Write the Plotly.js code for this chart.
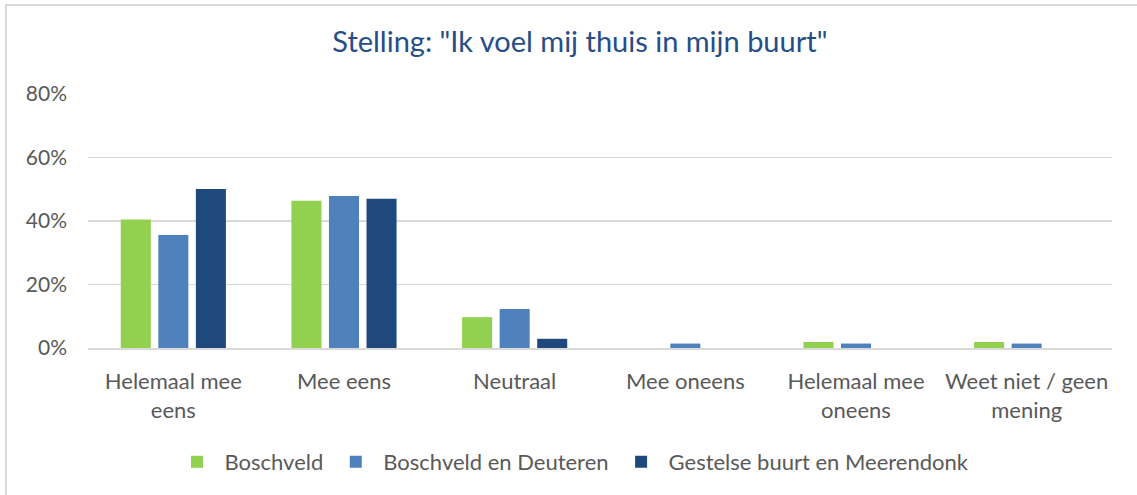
<!DOCTYPE html>
<html>
<head>
<meta charset="utf-8">
<script src="https://cdn.plot.ly/plotly-3.0.1.min.js"></script>
<style>
  html, body { margin: 0; padding: 0; background: #ffffff; overflow: hidden; }
  #frame { position: absolute; left: 5px; top: 4px; width: 1150px; height: 520px; border: 2px solid #d9d9d9; box-sizing: border-box; }
  #chart { position: absolute; left: 0; top: 0; width: 1137px; height: 495px; }
</style>
</head>
<body>
<div id="frame"></div>
<div id="chart"></div>
<script>
const categories = ["Helemaal mee<br>eens", "Mee eens", "Neutraal", "Mee oneens", "Helemaal mee<br>oneens", "Weet niet / geen<br>mening"];
const seriesNames = ["Boschveld", "Boschveld en Deuteren", "Gestelse buurt en Meerendonk"];
const boschveld = [0.405, 0.464, 0.097, 0.0, 0.019, 0.019];
const boschveldDeuteren = [0.356, 0.479, 0.123, 0.014, 0.014, 0.014];
const gestelse = [0.501, 0.470, 0.029, 0.0, 0.0, 0.0];
const colors = ["#92D050", "#4F81BD", "#1F497D"];
const yTicks = [0, 0.2, 0.4, 0.6, 0.8];
const titleText = 'Stelling: "Ik voel mij thuis in mijn buurt"';

const seriesValues = [boschveld, boschveldDeuteren, gestelse];
const traces = seriesValues.map((vals, i) => ({
  type: 'bar',
  name: seriesNames[i],
  x: categories,
  y: vals,
  marker: { color: colors[i] },
  hoverinfo: 'skip'
}));

const font = 'Lato, "Open Sans", sans-serif';
const layout = {
  width: 1137,
  height: 495,
  paper_bgcolor: 'rgba(0,0,0,0)',
  plot_bgcolor: 'rgba(0,0,0,0)',
  margin: { l: 88, r: 25, t: 94, b: 147 },
  barmode: 'group',
  bargap: 0.34,
  bargroupgap: 0.2,
  title: {
    text: titleText,
    font: { family: font, size: 29, color: '#264E86' },
    x: 0.51, xref: 'container', xanchor: 'center',
    y: 1 - 42 / 495, yref: 'container', yanchor: 'middle'
  },
  xaxis: {
    type: 'category',
    tickfont: { family: font, size: 22, color: '#595959' },
    showgrid: false,
    showline: true,
    linecolor: '#d9d9d9',
    linewidth: 2,
    ticks: '',
    ticklabelstandoff: 13,
    fixedrange: true
  },
  yaxis: {
    range: [0, 0.8],
    tickvals: yTicks,
    tickformat: '.0%',
    tickfont: { family: font, size: 21, color: '#595959' },
    gridcolor: '#d9d9d9',
    gridwidth: 1.5,
    zeroline: false,
    showline: false,
    ticks: '',
    ticklabelstandoff: 20,
    fixedrange: true
  },
  legend: {
    orientation: 'h',
    x: 572 / 1137, xref: 'container', xanchor: 'center',
    y: (495 - 462) / 495, yref: 'container', yanchor: 'middle',
    font: { family: font, size: 22, color: '#595959' },
    itemwidth: 45,
    traceorder: 'normal'
  },
  showlegend: true
};

Plotly.newPlot('chart', traces, layout, { staticPlot: true, displayModeBar: false });
</script>
</body>
</html>
